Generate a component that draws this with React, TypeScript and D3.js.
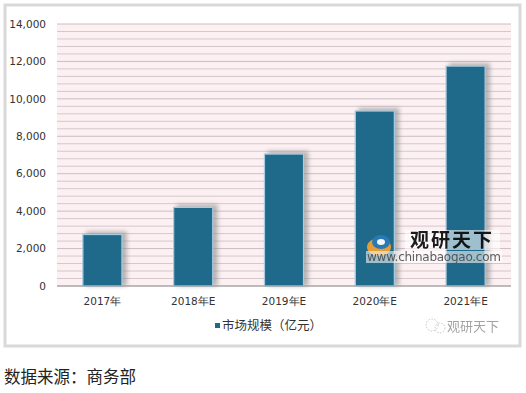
import React from "react";
import * as d3 from "d3";

const categories = ["2017年", "2018年E", "2019年E", "2020年E", "2021年E"];
const values = [2750, 4200, 7050, 9350, 11750];
const yTicks = [0, 2000, 4000, 6000, 8000, 10000, 12000, 14000];
const seriesName = "市场规模（亿元）";
const sourceText = "数据来源：商务部";

const W = 526;
const H = 393;
const plot = { left: 57, right: 511, top: 24, bottom: 286 };
const barColor = "#1f6a8b";

export default function App() {
  const x = d3
    .scaleBand<string>()
    .domain(categories)
    .range([plot.left, plot.right])
    .paddingInner(0.57)
    .paddingOuter(0.285);
  const y = d3.scaleLinear().domain([0, 14000]).range([plot.bottom, plot.top]);
  const minor = d3.range(0, 14001, 400);
  const fmt = d3.format(",");
  return (
    <div style={{ position: "absolute", left: 0, top: 0 }}>
      <svg width={W} height={H} style={{ display: "block" }}>
        <defs>
          <filter id="sh" x="-30%" y="-30%" width="160%" height="160%">
            <feGaussianBlur stdDeviation="2" />
          </filter>
        </defs>
        <rect x={0} y={0} width={W} height={H} fill="#fff" />
        <rect x={5} y={5} width={515} height={341} fill="#fff" stroke="#d9d9d9" strokeWidth={3} />
        <rect
          x={plot.left}
          y={plot.top}
          width={plot.right - plot.left}
          height={plot.bottom - plot.top}
          fill="#fcf0f2"
        />
        {minor.map((v, i) => (
          <line
            key={v}
            x1={plot.left}
            x2={plot.right}
            y1={y(v)}
            y2={y(v)}
            stroke={i % 5 === 0 ? "#c9bec2" : "#d3c8cc"}
            strokeWidth={1}
          />
        ))}
        {yTicks.map((t) => (
          <text
            key={t}
            x={46}
            y={y(t)}
            dy="0.35em"
            textAnchor="end"
            fontSize={10.5}
            fontFamily="'DejaVu Sans', sans-serif"
            fill="#333"
          >
            {fmt(t)}
          </text>
        ))}
        {categories.map((c, i) => {
          const bx = x(c)!;
          const bw = x.bandwidth();
          const by = y(values[i]);
          return (
            <g key={c}>
              <rect
                x={bx + 3}
                y={by - 3}
                width={bw + 2}
                height={plot.bottom - by + 3}
                fill="#8a8a8a"
                opacity={0.6}
                filter="url(#sh)"
              />
              <rect
                x={bx}
                y={by}
                width={bw}
                height={plot.bottom - by}
                fill={barColor}
                stroke="#a9cbe0"
                strokeWidth={1.2}
              />
            </g>
          );
        })}
        <line x1={plot.left} x2={plot.right} y1={plot.bottom} y2={plot.bottom} stroke="#999" />
        {categories.map((c) => (
          <text
            key={c}
            x={x(c)! + x.bandwidth() / 2}
            y={301}
            dy="0.35em"
            textAnchor="middle"
            fontSize={10.5}
            fontFamily="'DejaVu Sans', sans-serif"
            fill="#333"
          >
            {c}
          </text>
        ))}
        <rect x={215} y={323} width={5} height={5} fill={barColor} />
        <text
          x={222}
          y={326}
          dy="0.35em"
          fontSize={12.5}
          fontFamily="'Noto Sans CJK SC', sans-serif"
          fill="#333"
        >
          {seriesName}
        </text>
        {/* watermark logo */}
        <g opacity={0.95}>
          <ellipse cx={379} cy={247} rx={12} ry={9} fill="#f0a030" />
          <ellipse cx={381} cy={242} rx={9} ry={7} fill="#2a7ab8" />
          <ellipse cx={381} cy={242} rx={4} ry={3} fill="#fff" />
          <rect x={405} y={230} width={95} height={20} fill="#fff" opacity={0.6} />
          <text
            x={452}
            y={240}
            dy="0.35em"
            textAnchor="middle"
            fontSize={19}
            fontWeight="bold"
            fontFamily="'Noto Sans CJK SC', sans-serif"
            fill="#111"
            letterSpacing={2}
          >
            观研天下
          </text>
          <rect x={366} y={251} width={136} height={12} fill="#fff" opacity={0.6} />
          <text
            x={434}
            y={257}
            dy="0.35em"
            textAnchor="middle"
            fontSize={12}
            fontFamily="'DejaVu Sans', sans-serif"
            fill="#555"
            textLength={134}
          >
            www.chinabaogao.com
          </text>
        </g>
        <g opacity={0.6}>
          <circle cx={432} cy={325} r={6} fill="none" stroke="#999" strokeDasharray="1.5 1.5" />
          <circle cx={440} cy={328} r={5} fill="none" stroke="#999" strokeDasharray="1.5 1.5" />
          <text
            x={447}
            y={326}
            dy="0.35em"
            fontSize={13}
            fontFamily="'Noto Sans CJK SC', sans-serif"
            fill="#666"
          >
            观研天下
          </text>
        </g>
        <text
          x={4}
          y={377}
          dy="0.35em"
          fontSize={16.5}
          fontFamily="'Noto Sans CJK SC', sans-serif"
          fill="#222"
        >
          {sourceText}
        </text>
      </svg>
    </div>
  );
}
